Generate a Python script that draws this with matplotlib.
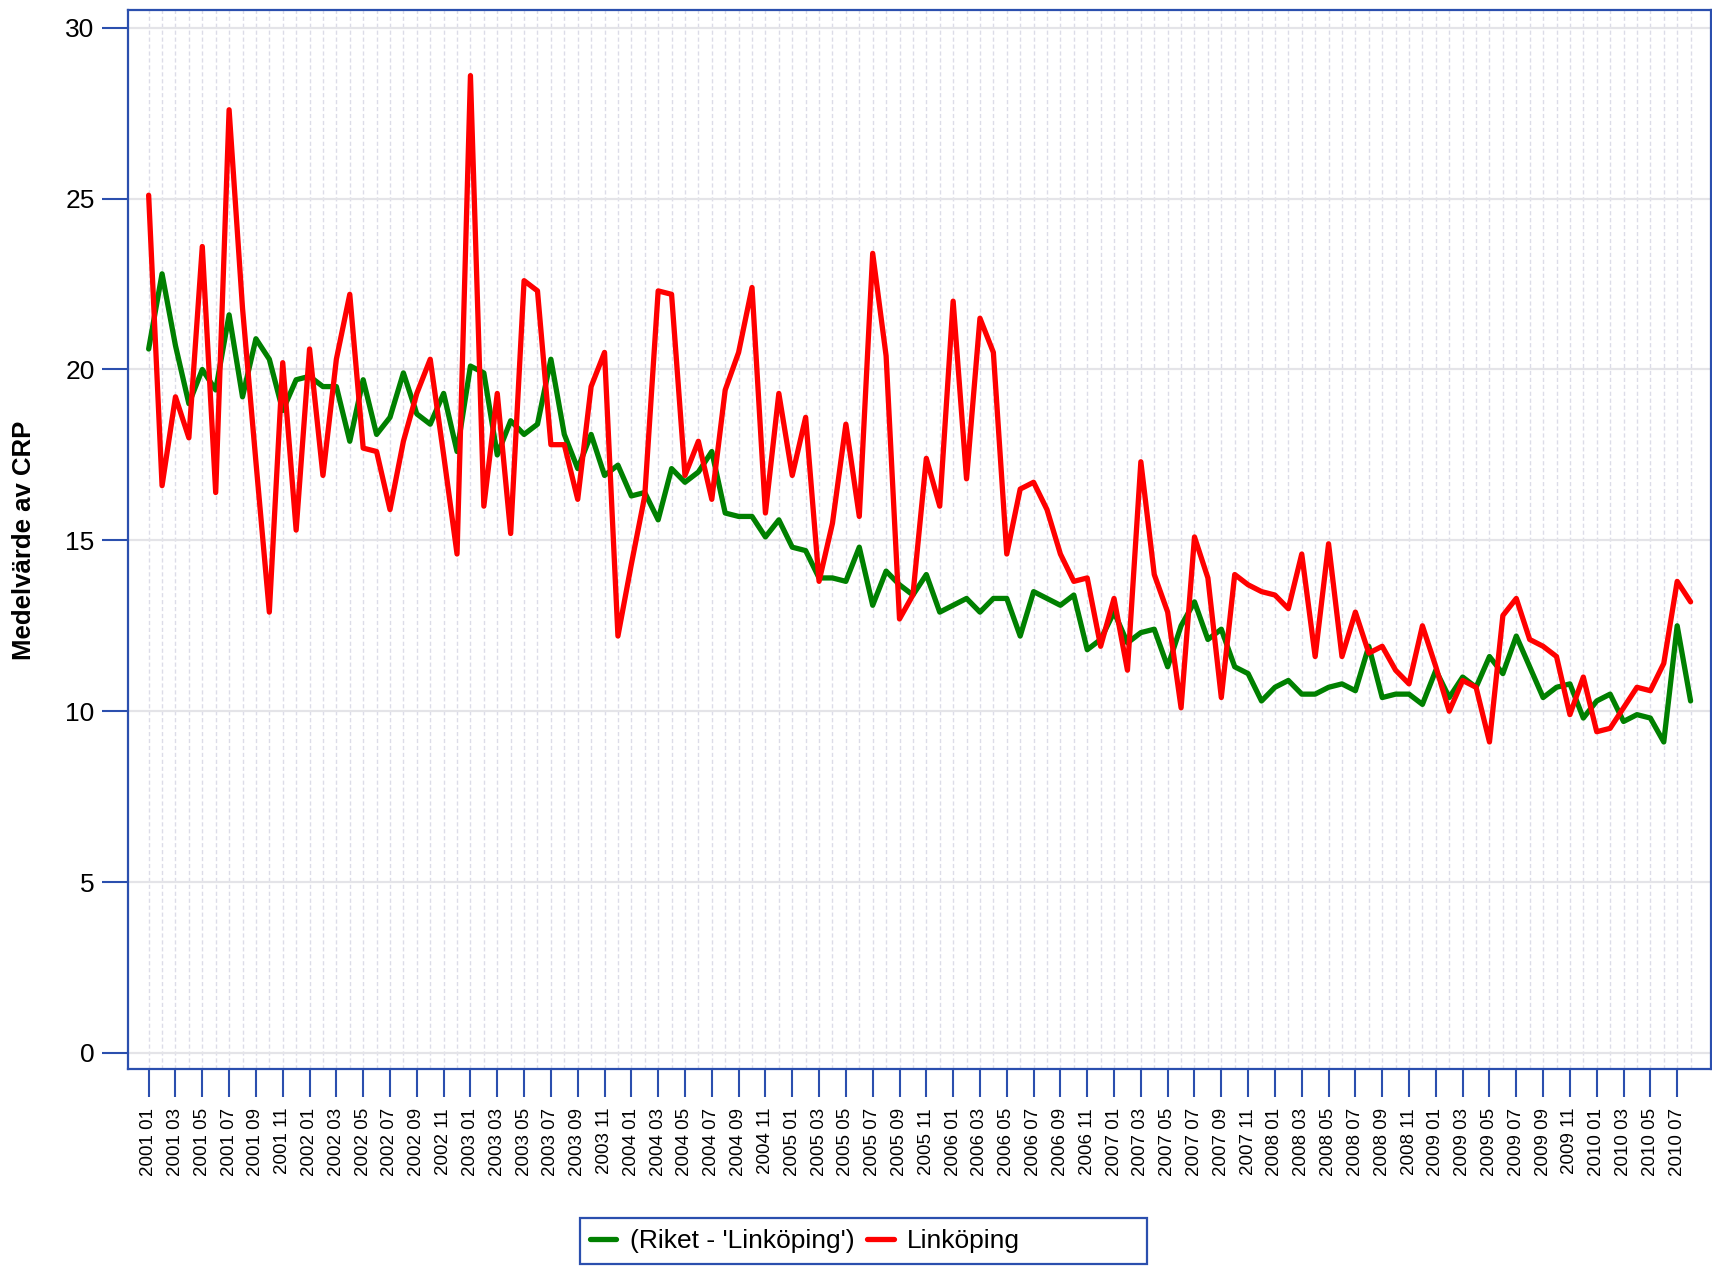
import matplotlib
matplotlib.use("Agg")
import matplotlib.pyplot as plt
from matplotlib.patches import Rectangle

plt.rcParams['font.family'] = ['Liberation Sans', 'DejaVu Sans']

# monthly labels 2001 01 .. 2010 08
months = [f"{y} {m:02d}" for y in range(2001, 2011) for m in range(1, 13)][:116]

# Medelvärde av CRP, hela riket utom Linköping
riket = [20.6, 22.8, 20.7, 19.0, 20.0, 19.4, 21.6, 19.2, 20.9, 20.3,
         18.8, 19.7, 19.8, 19.5, 19.5, 17.9, 19.7, 18.1, 18.6, 19.9,
         18.7, 18.4, 19.3, 17.6, 20.1, 19.9, 17.5, 18.5, 18.1, 18.4,
         20.3, 18.1, 17.1, 18.1, 16.9, 17.2, 16.3, 16.4, 15.6, 17.1,
         16.7, 17.0, 17.6, 15.8, 15.7, 15.7, 15.1, 15.6, 14.8, 14.7,
         13.9, 13.9, 13.8, 14.8, 13.1, 14.1, 13.7, 13.4, 14.0, 12.9,
         13.1, 13.3, 12.9, 13.3, 13.3, 12.2, 13.5, 13.3, 13.1, 13.4,
         11.8, 12.1, 12.9, 12.0, 12.3, 12.4, 11.3, 12.5, 13.2, 12.1,
         12.4, 11.3, 11.1, 10.3, 10.7, 10.9, 10.5, 10.5, 10.7, 10.8,
         10.6, 11.9, 10.4, 10.5, 10.5, 10.2, 11.2, 10.4, 11.0, 10.7,
         11.6, 11.1, 12.2, 11.3, 10.4, 10.7, 10.8, 9.8, 10.3, 10.5,
         9.7, 9.9, 9.8, 9.1, 12.5, 10.3]

# Medelvärde av CRP, Linköping
linkoping = [25.1, 16.6, 19.2, 18.0, 23.6, 16.4, 27.6, 21.8, 17.3, 12.9,
             20.2, 15.3, 20.6, 16.9, 20.3, 22.2, 17.7, 17.6, 15.9, 17.9,
             19.3, 20.3, 17.5, 14.6, 28.6, 16.0, 19.3, 15.2, 22.6, 22.3,
             17.8, 17.8, 16.2, 19.5, 20.5, 12.2, 14.3, 16.3, 22.3, 22.2,
             16.9, 17.9, 16.2, 19.4, 20.5, 22.4, 15.8, 19.3, 16.9, 18.6,
             13.8, 15.5, 18.4, 15.7, 23.4, 20.4, 12.7, 13.4, 17.4, 16.0,
             22.0, 16.8, 21.5, 20.5, 14.6, 16.5, 16.7, 15.9, 14.6, 13.8,
             13.9, 11.9, 13.3, 11.2, 17.3, 14.0, 12.9, 10.1, 15.1, 13.9,
             10.4, 14.0, 13.7, 13.5, 13.4, 13.0, 14.6, 11.6, 14.9, 11.6,
             12.9, 11.7, 11.9, 11.2, 10.8, 12.5, 11.3, 10.0, 10.9, 10.7,
             9.1, 12.8, 13.3, 12.1, 11.9, 11.6, 9.9, 11.0, 9.4, 9.5,
             10.1, 10.7, 10.6, 11.4, 13.8, 13.2]

blue = '#2b4fae'
W, H = 1712, 1266

fig = plt.figure(figsize=(W / 100, H / 100), dpi=100)
ax = fig.add_axes([128 / W, 1 - 1069 / H, (1710.7 - 128) / W, (1069 - 10) / H])

x = list(range(len(months)))
ax.plot(x, riket, color='#008000', lw=3.8, solid_joinstyle='round',
        solid_capstyle='round', label="(Riket - 'Linköping')")
ax.plot(x, linkoping, color='#ff0000', lw=3.8, solid_joinstyle='round',
        solid_capstyle='round', label='Linköping')

ax.set_xlim(-1.54, 116.5)
ax.set_ylim(-0.47, 30.52)

ax.set_xticks(x[::2])
ax.set_xticklabels(months[::2], rotation=90, fontsize=13.5)
ax.set_xticks(x, minor=True)
ax.set_yticks([0, 5, 10, 15, 20, 25, 30])
ax.tick_params(axis='y', labelsize=19, length=19, width=1.5, color=blue, pad=5)
ax.tick_params(axis='x', which='major', length=20, width=1.5, color=blue, pad=8)
ax.tick_params(axis='x', which='minor', length=0)

ax.grid(axis='x', which='both', color='#dcdce8', lw=1.0, ls=(0, (3, 2)))
ax.grid(axis='y', which='major', color='#e4e4e8', lw=1.6)
ax.set_axisbelow(True)

for s in ax.spines.values():
    s.set_color(blue)
    s.set_linewidth(1.6)

fig.text(24 / W, 1 - 540 / H, 'Medelvärde av CRP', rotation=90,
         ha='center', va='center', fontsize=18.5, fontweight='bold')

# legend box below the chart
fig.patches.append(Rectangle((580 / W, 1 - 1264 / H), 567 / W, 46 / H,
                             transform=fig.transFigure, fill=False,
                             edgecolor=blue, lw=1.6))
fig.legend(loc='center left', bbox_to_anchor=(590 / W, 1 - 1241 / H),
           frameon=False, ncol=2, fontsize=19, handlelength=1.0,
           handletextpad=0.5, columnspacing=0.5, borderpad=0,
           borderaxespad=0)

fig.savefig('out.png', dpi=100)
